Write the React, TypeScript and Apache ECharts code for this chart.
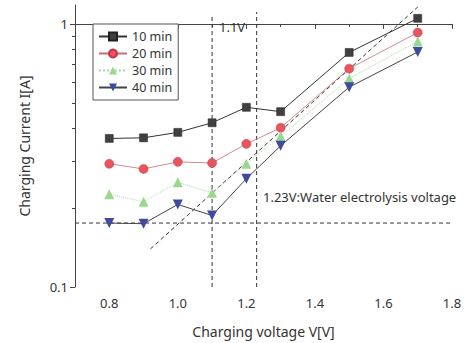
import React, { useEffect, useRef } from "react";
import * as echarts from "echarts";

const X = [0.8, 0.9, 1.0, 1.1, 1.2, 1.3, 1.5, 1.7];
const I10 = [0.367, 0.369, 0.387, 0.421, 0.482, 0.464, 0.779, 1.05];
const I20 = [0.294, 0.281, 0.299, 0.296, 0.35, 0.403, 0.676, 0.927];
const I30 = [0.225, 0.211, 0.25, 0.228, 0.294, 0.374, 0.62, 0.858];
const I40 = [0.175, 0.174, 0.206, 0.187, 0.258, 0.344, 0.575, 0.782];
const NAMES = ["10 min", "20 min", "30 min", "40 min"];

const X_MIN = 0.7;
const X_MAX = 1.8;
const Y_MIN = 0.1;
const Y_MAX = 1.18;
const X_LABELS = [0.8, 1.0, 1.2, 1.4, 1.6, 1.8];
const X_MINOR = [0.9, 1.1, 1.3, 1.5, 1.7];
const Y_LABELS = [0.1, 1];
const Y_MINOR = [0.2, 0.3, 0.4, 0.5, 0.6, 0.7, 0.8, 0.9];

const V_LINES = [
  { x: 1.1, top: 1.08 },
  { x: 1.23, top: 1.11 },
];
const H_LINE_Y = 0.175;
const DIAG = [
  [0.92, 0.1395],
  [1.7, 1.16],
];

const FONT = "Noto Sans";
const TXT = "#333";

export default function App() {
  const ref = useRef<HTMLDivElement>(null);
  useEffect(() => {
    const chart = echarts.init(ref.current!, undefined, { renderer: "svg" });
    const pts = (ys: number[]) => X.map((x, i) => [x, ys[i]]);
    const refLine = (data: number[][]) => ({
      type: "line",
      data,
      symbol: "none",
      silent: true,
      xAxisIndex: 0,
      yAxisIndex: 0,
      lineStyle: { color: "#333", width: 1, type: [4, 3] },
      z: 1,
    });
    const log = Math.log10;
    chart.setOption({
      animation: false,
      textStyle: { fontFamily: FONT },
      grid: { left: 75, right: 16, top: 5, bottom: 54 },
      legend: {
        data: NAMES,
        orient: "vertical",
        left: 93,
        top: 24,
        padding: [6, 6, 6, 5],
        itemGap: 4,
        itemWidth: 28,
        itemHeight: 10,
        borderColor: "#555",
        borderWidth: 1,
        borderRadius: 0,
        backgroundColor: "#fff",
        textStyle: { fontSize: 12.5, color: TXT, fontFamily: FONT, lineHeight: 12 },
      },
      xAxis: [
        {
          type: "value",
          min: X_MIN,
          max: X_MAX,
          name: "Charging voltage V[V]",
          nameLocation: "middle",
          nameGap: 37,
          nameTextStyle: { fontSize: 14, color: TXT, fontFamily: FONT },
          splitLine: { show: false },
          axisLine: { lineStyle: { color: "#444", width: 1 } },
          axisTick: { customValues: X_LABELS, length: 5, lineStyle: { color: "#444" } },
          axisLabel: {
            customValues: X_LABELS,
            formatter: (v: number) => v.toFixed(1),
            fontSize: 13,
            color: TXT,
            margin: 9,
          },
        },
        {
          type: "value",
          min: X_MIN,
          max: X_MAX,
          position: "bottom",
          splitLine: { show: false },
          axisLine: { show: false },
          axisTick: { customValues: X_MINOR, length: 3, lineStyle: { color: "#444" } },
          axisLabel: { show: false },
        },
      ],
      yAxis: [
        {
          type: "log",
          logBase: 10,
          min: Y_MIN,
          max: Y_MAX,
          name: "Charging Current I[A]",
          nameLocation: "middle",
          nameGap: 44,
          nameTextStyle: { fontSize: 14, color: TXT, fontFamily: FONT },
          splitLine: { show: false },
          axisLine: { lineStyle: { color: "#444", width: 1 } },
          axisTick: { show: false },
          axisLabel: { show: false },
        },
        {
          type: "value",
          min: log(Y_MIN),
          max: log(Y_MAX),
          position: "left",
          splitLine: { show: false },
          axisLine: { show: false },
          axisTick: { customValues: Y_LABELS.map(log), length: 5, lineStyle: { color: "#444" } },
          axisLabel: {
            customValues: Y_LABELS.map(log),
            formatter: (v: number) => String(Math.round(Math.pow(10, v) * 10) / 10),
            fontSize: 13,
            color: TXT,
            margin: 7,
          },
        },
        {
          type: "value",
          min: log(Y_MIN),
          max: log(Y_MAX),
          position: "left",
          splitLine: { show: false },
          axisLine: { show: false },
          axisTick: { customValues: Y_MINOR.map(log), length: 3, lineStyle: { color: "#444" } },
          axisLabel: { show: false },
        },
      ],
      graphic: [
        {
          type: "text",
          left: 219,
          top: 20,
          z: 10,
          style: { text: "1.1V", fontSize: 13, fill: TXT, fontFamily: FONT },
        },
        {
          type: "text",
          left: 263,
          top: 190,
          z: 10,
          style: {
            text: "1.23V:Water electrolysis voltage",
            fontSize: 13,
            fill: TXT,
            fontFamily: FONT,
          },
        },
      ],
      series: [
        ...V_LINES.map((v) => refLine([[v.x, Y_MIN], [v.x, v.top]])),
        refLine([[X_MIN, H_LINE_Y], [X_MAX, H_LINE_Y]]),
        refLine(DIAG),
        {
          name: NAMES[0],
          type: "line",
          data: pts(I10),
          symbol: "rect",
          symbolSize: 8,
          itemStyle: { color: "#404040", borderColor: "#222", borderWidth: 0.5 },
          lineStyle: { color: "#333", width: 1 },
          z: 5,
        },
        {
          name: NAMES[1],
          type: "line",
          data: pts(I20),
          symbol: "circle",
          symbolSize: 9,
          itemStyle: { color: "#e8555e", borderColor: "#c03545", borderWidth: 0.5 },
          lineStyle: { color: "#c86a78", width: 0.8 },
          z: 5,
        },
        {
          name: NAMES[2],
          type: "line",
          data: pts(I30),
          symbol: "triangle",
          symbolSize: 10,
          itemStyle: { color: "#9ad88f" },
          lineStyle: { color: "#a8dca0", width: 1, type: "dotted" },
          z: 5,
        },
        {
          name: NAMES[3],
          type: "line",
          data: pts(I40),
          symbol: "triangle",
          symbolRotate: 180,
          symbolSize: 10,
          itemStyle: { color: "#3d4a9e" },
          lineStyle: { color: "#444", width: 1 },
          z: 5,
        },
      ],
    });
    return () => chart.dispose();
  }, []);
  return (
    <div
      ref={ref}
      style={{ position: "absolute", left: 0, top: 0, width: 468, height: 343, background: "#fff" }}
    />
  );
}
